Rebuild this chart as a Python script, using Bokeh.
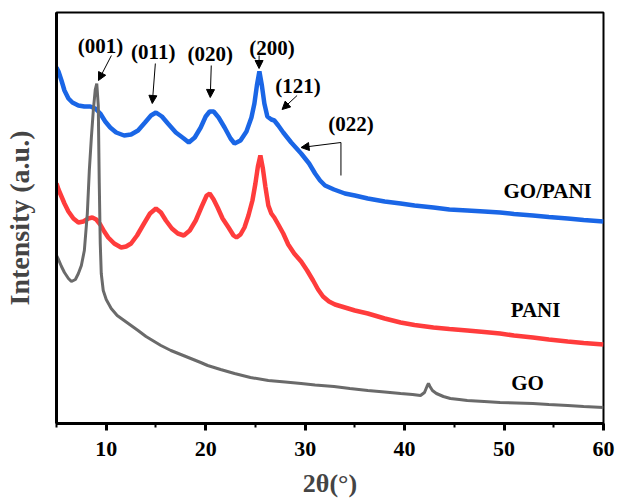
from bokeh.plotting import figure
from bokeh.models import Label, Arrow, NormalHead, SingleIntervalTicker, FixedTicker
from bokeh.embed import file_html
from bokeh.resources import INLINE

# 2theta (deg) and relative intensity (a.u.)
gopani_x = [5.0,5.2,5.5,5.8,6.2,6.6,7.2,7.8,8.4,8.9,9.4,9.9,10.4,11.0,11.8,12.5,13.2,13.9,14.5,15.0,15.6,16.2,17.0,17.8,18.3,18.9,19.5,20.0,20.4,20.8,21.3,21.9,22.5,22.9,23.5,24.1,24.6,24.9,25.15,25.4,25.65,25.9,26.2,26.6,26.9,27.3,27.8,28.6,29.6,30.4,31.0,31.5,32.0,32.9,34.0,35.0,36.3,38.0,39.6,41.0,42.9,44.5,46.3,48.0,49.6,51.0,52.9,54.5,56.4,58.0,60.0]
gopani_y = [356,352,343,333,325,321,318,317,317,315,310,302,296,291,288,289,293,301,308,311,307,300,291,285,281,286,296,307,312,312,306,296,285,280,283,292,306,320,338,352,338,320,307,304,303,298,291,281,270,260,250,243,238,234,230,228,225,222,220,218,216,214,213,212,211,209.5,208,206.5,205,203.5,202]

pani_x = [5.0,5.2,5.5,5.8,6.2,6.7,7.2,7.7,8.2,8.6,9.0,9.4,9.8,10.2,10.8,11.5,12.0,12.5,13.1,13.8,14.4,15.0,15.5,16.0,16.6,17.2,17.8,18.4,19.0,19.6,20.1,20.4,20.8,21.2,21.7,22.3,22.8,23.1,23.5,23.9,24.3,24.7,25.0,25.25,25.5,25.75,26.0,26.3,26.6,26.9,27.3,27.8,28.3,28.9,29.6,30.2,30.8,31.3,31.8,32.4,33.0,34.0,35.0,36.3,38.0,39.6,41.0,42.9,44.5,46.3,48.0,49.6,51.0,52.9,54.5,56.4,58.0,60.0]
pani_y = [240,234,227,220,212,205,201,202,205,206,204,199,192,186,180,176,177,180,188,200,210,215,211,203,195,190,188,193,203,217,228,230,224,216,205,196,188,186,189,196,208,223,240,257,268,255,237,218,210,206,199,190,179,170,162,153,143,134,127,122,119,116,113,110,105,101,98.5,96,94.5,93,91.5,90,88,86,84,82,80.5,79]

go_x = [5.0,5.2,5.5,5.8,6.2,6.5,6.9,7.2,7.5,7.8,8.1,8.3,8.5,8.7,8.9,9.05,9.2,9.3,9.4,9.5,9.7,10.0,10.5,11.1,11.8,12.5,13.2,14.0,14.5,15.5,16.5,17.5,18.5,19.5,20.2,21.5,22.9,24.5,26.3,28.0,29.6,31.0,32.9,34.5,36.3,38.0,39.6,40.8,41.6,42.0,42.25,42.4,42.55,42.8,43.2,43.9,44.6,45.5,46.3,48.0,49.6,52.9,54.5,56.4,58.0,60.0]
go_y = [168,164,157,151,145,142,144,150,158,173,210,253,285,313,334,340,318,240,180,150,133,124,115,108,103,98,93,87,84,78,73,69,65,61,58,54,50,46,43,41.5,40,38.5,37,35,33,31.5,30,29,28,31,37,40,37,33,30,27,25,24,23,22,21,20,19,18,17,16]

series_names = ["GO/PANI", "PANI", "GO"]
peak_labels = ["(001)", "(011)", "(020)", "(200)", "(121)", "(022)"]

FONT = "Liberation Serif"

p = figure(width=617, height=500, x_range=(5, 60), y_range=(0, 411),
           output_backend="svg", toolbar_location=None,
           min_border_left=55, min_border_right=14, min_border_top=12, min_border_bottom=77)
p.xgrid.visible = False
p.ygrid.visible = False
p.outline_line_color = "black"
p.outline_line_width = 2
p.background_fill_color = "white"
p.border_fill_color = "white"

p.line(gopani_x, gopani_y, line_color="#1a66e6", line_width=4.5)
p.line(pani_x, pani_y, line_color="#ff3c3c", line_width=4.5)
p.line(go_x, go_y, line_color="#6a6a6a", line_width=3)

xa = p.xaxis[0]
xa.ticker = SingleIntervalTicker(interval=10, num_minor_ticks=2)
xa.axis_line_width = 3
xa.major_tick_line_width = 3
xa.minor_tick_line_width = 2
xa.major_tick_out = 7
xa.major_tick_in = 0
xa.minor_tick_out = 4
xa.minor_tick_in = 0
xa.major_label_text_font = FONT
xa.major_label_text_font_style = "bold"
xa.major_label_text_font_size = "22px"
xa.major_label_text_color = "black"
xa.major_label_standoff = 11
xa.axis_label = "2θ(°)"
xa.axis_label_text_font = FONT
xa.axis_label_text_font_style = "bold"
xa.axis_label_text_font_size = "26px"
xa.axis_label_standoff = 10

ya = p.yaxis[0]
ya.ticker = FixedTicker(ticks=[])
ya.axis_line_width = 3
ya.major_tick_out = 0
ya.minor_tick_out = 0
ya.axis_label = "Intensity (a.u.)"
ya.axis_label_text_font = FONT
ya.axis_label_text_font_style = "bold"
ya.axis_label_text_font_size = "28px"
ya.axis_label_standoff = 22

label_pos = [(9.42, 378), (14.73, 372), (20.46, 370), (26.68, 376), (29.29, 338), (34.61, 300)]
for txt, (lx, ly) in zip(peak_labels, label_pos):
    p.add_layout(Label(x=lx, y=ly, text=txt, text_font=FONT, text_font_style="bold",
                       text_font_size="21px", text_align="center", text_baseline="middle",
                       text_color="black"))

arrows = [((10.52, 368), (9.22, 343)), ((14.94, 360), (14.63, 320)), ((20.56, 358), (20.46, 326)),
          ((25.37, 368), (25.37, 355)), ((29.19, 328), (27.68, 314)), ((33.60, 281), (29.59, 276))]
for (sx, sy), (ex, ey) in arrows:
    p.add_layout(Arrow(x_start=sx, y_start=sy, x_end=ex, y_end=ey, line_width=1, line_color="black",
                       end=NormalHead(size=8, fill_color="black", line_color="black", line_width=1)))
p.segment(x0=[33.60], y0=[281], x1=[33.60], y1=[248], line_color="black", line_width=1)

name_pos = [(54.38, 233), (53.17, 114), (52.37, 41)]
for txt, (lx, ly) in zip(series_names, name_pos):
    p.add_layout(Label(x=lx, y=ly, text=txt, text_font=FONT, text_font_style="bold",
                       text_font_size="21px", text_align="center", text_baseline="middle",
                       text_color="black"))

open("out.html", "w").write(file_html(p, INLINE))
